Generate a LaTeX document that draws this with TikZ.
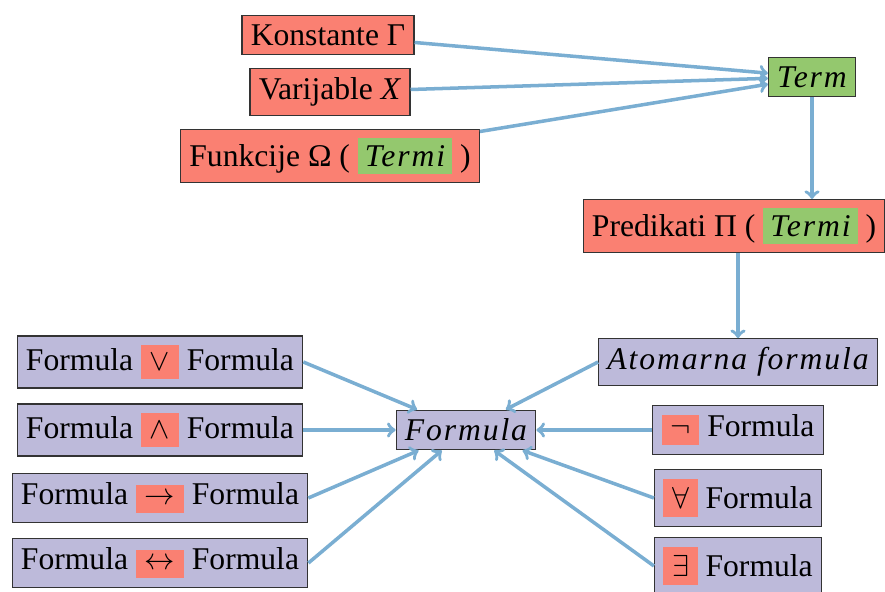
\documentclass[tikz,border=0pt]{standalone}
\usepackage{fontspec}
\setmainfont{Liberation Serif}
\newfontfamily\varfont[LetterSpace=6]{Liberation Serif}
\usetikzlibrary{positioning}

\definecolor{salmonred}{RGB}{250,128,114}
\definecolor{termgreen}{RGB}{148,200,110}
\definecolor{formlilac}{RGB}{189,186,218}
\definecolor{arrowblue}{RGB}{122,174,210}

\newcommand{\mvar}[1]{{\varfont\itshape #1}}
\newcommand{\termbox}[1]{{\setlength{\fboxsep}{4pt}\colorbox{termgreen}{\mvar{#1}}}}
\newcommand{\opbox}[1]{{\setlength{\fboxsep}{5pt}\colorbox{salmonred}{$#1$}}}

\tikzset{
    box/.style={draw=black!80, line width=0.6pt, inner sep=5pt},
    redbox/.style={box, fill=salmonred},
    greenbox/.style={box, fill=termgreen},
    lilacbox/.style={box, fill=formlilac},
    link/.style={->, draw=arrowblue, line width=2pt}
}

\begin{document}
\begin{tikzpicture}[font=\fontsize{18}{22}\selectfont]

    \useasboundingbox (0,0) rectangle (17.7,11.84);

    % terms
    \node[redbox] (konst) at (6.56,11.14) {Konstante Γ};
    \node[redbox] (varij) at (6.60,10.00) {Varijable \textit{X}};
    \node[redbox] (funk) at (6.60,8.72) {Funkcije Ω ( \termbox{Termi} )};
    \node[greenbox] (term) at (16.24,10.30) {\mvar{Term}};
    \node[redbox] (pred) at (14.68,7.32) {Predikati Π ( \termbox{Termi} )};

    % formulas
    \node[lilacbox] (atom) at (14.76,4.60) {\mvar{Atomarna formula}};
    \node[lilacbox] (formula) at (9.32,3.24) {\mvar{Formula}};

    \node[lilacbox] (neg) at (14.76,3.24) {\opbox{\neg} Formula};
    \node[lilacbox] (forall) at (14.76,1.88) {\opbox{\forall} Formula};
    \node[lilacbox] (exists) at (14.76,0.52) {\opbox{\exists} Formula};

    \node[lilacbox] (or) at (3.20,4.60) {Formula \opbox{\vee} Formula};
    \node[lilacbox] (and) at (3.20,3.24) {Formula \opbox{\wedge} Formula};
    \node[lilacbox] (imp) at (3.20,1.88) {Formula \opbox{\rightarrow} Formula};
    \node[lilacbox] (iff) at (3.20,0.58) {Formula \opbox{\leftrightarrow} Formula};

    \draw[link] (konst) -- (term);
    \draw[link] (varij) -- (term);
    \draw[link] (funk) -- (term);
    \draw[link] (term.south) -- (term.south |- pred.north);
    \draw[link] (atom.north |- pred.south) -- (atom.north);

    \draw[link] (atom.west) -- (formula);
    \draw[link] (neg) -- (formula);
    \draw[link] (forall.west) -- (formula);
    \draw[link] (exists.west) -- (formula);
    \draw[link] (or.east) -- (formula);
    \draw[link] (and) -- (formula);
    \draw[link] (imp.east) -- (formula);
    \draw[link] (iff.east) -- (formula);

\end{tikzpicture}
\end{document}
